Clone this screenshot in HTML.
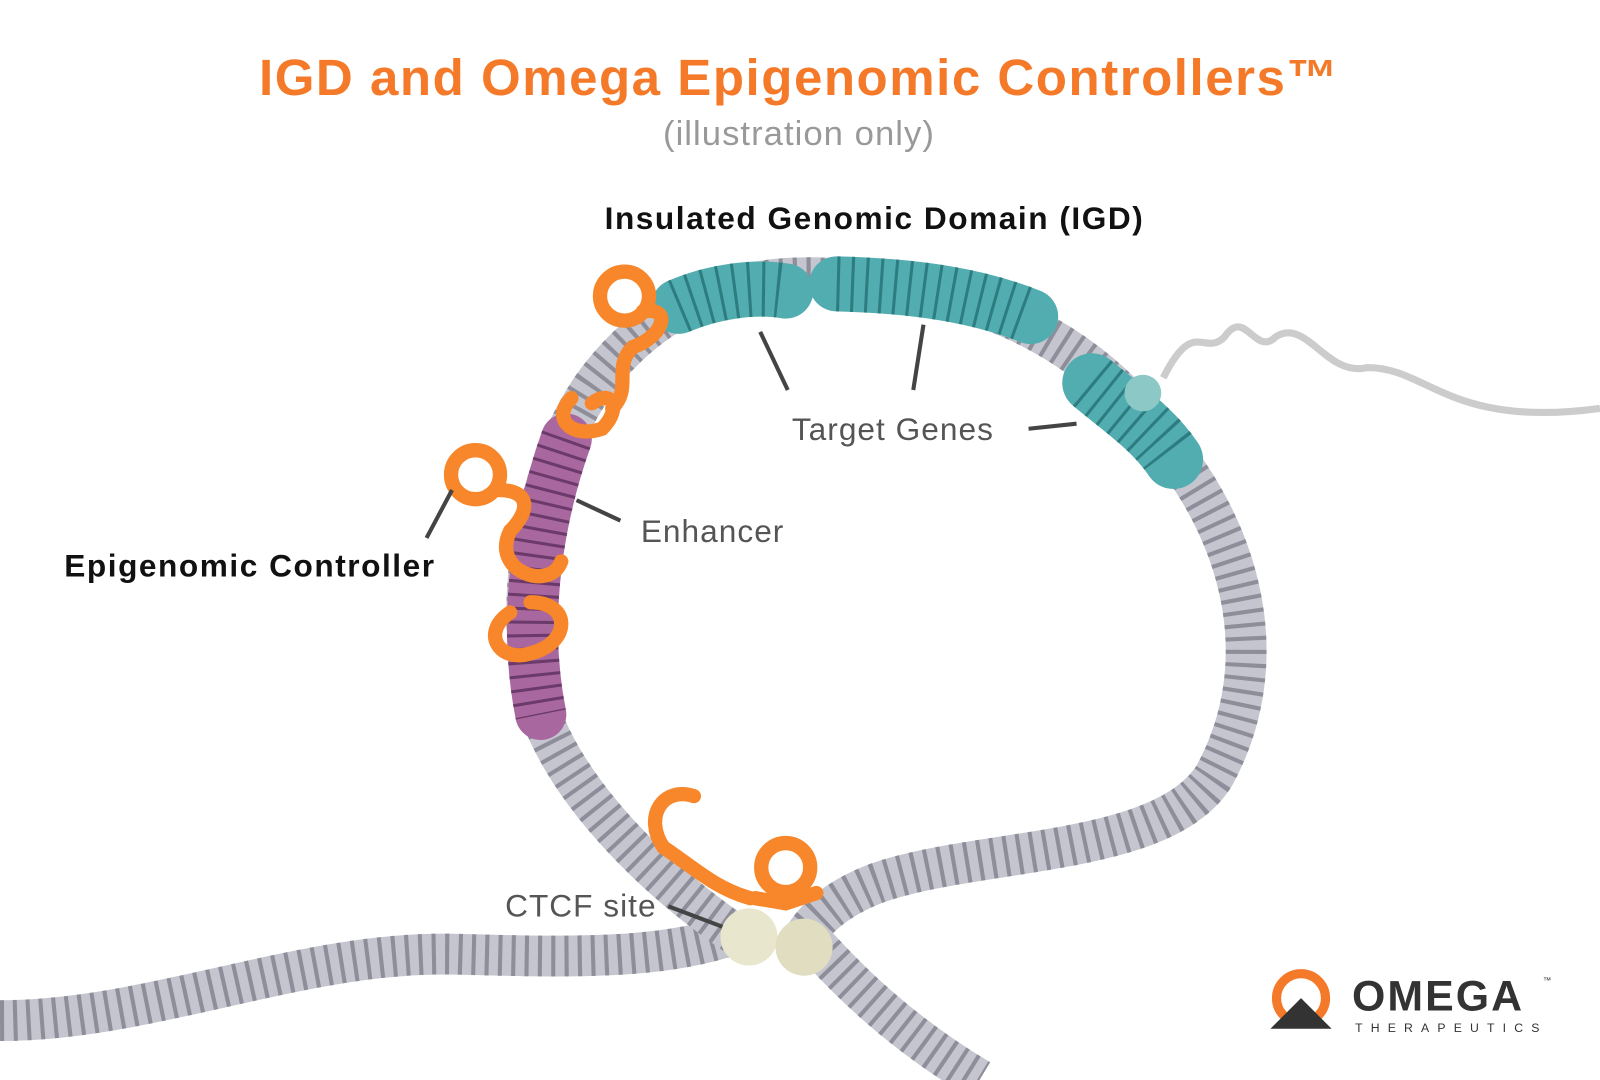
<!DOCTYPE html>
<html><head><meta charset="utf-8"><style>
html,body{margin:0;padding:0;background:#fff;}
svg{display:block}
</style></head><body>
<svg width="1600" height="1080" viewBox="0 0 1568 1058" xmlns="http://www.w3.org/2000/svg">
<rect width="1568" height="1058" fill="#fff"/>
<text x="783" y="93" text-anchor="middle" font-family="Liberation Sans, sans-serif" font-weight="bold" font-size="50" letter-spacing="1.5" fill="#f47a2a">IGD and Omega Epigenomic Controllers™</text>
<text x="783" y="142" text-anchor="middle" font-family="Liberation Sans, sans-serif" font-size="34" letter-spacing="1" fill="#999">(illustration only)</text>
<text x="857" y="224" text-anchor="middle" font-family="Liberation Sans, sans-serif" font-weight="bold" font-size="31" letter-spacing="1.5" fill="#111">Insulated Genomic Domain (IGD)</text>

<path d="M1140 370 C1170 310 1180 350 1200 330 C1220 300 1230 350 1250 330 C1280 310 1300 370 1340 360 C1400 360 1420 420 1568 400" fill="none" stroke="#ccc" stroke-width="7"/>

<defs>
<path id="t1" d="M0 1000 C150 1000 300 930 450 935 C560 938 650 940 720 915"/>
<path id="t2" d="M790 915 C830 960 880 1010 960 1058"/>
<path id="loop" d="M720 915 C640 860 560 780 530 700 C500 600 520 470 580 380 C630 310 700 270 800 272 C950 276 1060 330 1130 420 C1220 520 1250 650 1190 760 C1140 840 960 830 860 865 C820 880 800 900 790 915"/>
<path id="g1" d="M665 300 C700 285 740 280 770 285"/>
<path id="g2" d="M820 278 C900 280 960 290 1010 310"/>
<path id="g3" d="M1070 375 C1100 400 1130 420 1150 450"/>
<path id="en" d="M555 430 C530 500 510 600 530 700"/>
</defs>
<g fill="none" stroke-linecap="butt">
<use href="#t1" stroke="#c4c5ce" stroke-width="40"/>
<use href="#t1" stroke="#8d8e99" stroke-width="40" stroke-dasharray="4 9"/>
<use href="#t2" stroke="#c4c5ce" stroke-width="40"/>
<use href="#t2" stroke="#8d8e99" stroke-width="40" stroke-dasharray="4 9"/>
<use href="#loop" stroke="#c4c5ce" stroke-width="40"/>
<use href="#loop" stroke="#8d8e99" stroke-width="40" stroke-dasharray="4 9"/>
<use href="#g1" stroke="#52adb0" stroke-width="54" stroke-linecap="round"/>
<use href="#g1" stroke="#2d7d80" stroke-width="54" stroke-dasharray="3 11"/>
<use href="#g2" stroke="#52adb0" stroke-width="54" stroke-linecap="round"/>
<use href="#g2" stroke="#2d7d80" stroke-width="54" stroke-dasharray="3 11"/>
<use href="#g3" stroke="#52adb0" stroke-width="58" stroke-linecap="round"/>
<use href="#g3" stroke="#2d7d80" stroke-width="58" stroke-dasharray="3 11"/>
<use href="#en" stroke="#a8689f" stroke-width="50" stroke-linecap="round"/>
<use href="#en" stroke="#6b3a6a" stroke-width="50" stroke-dasharray="3 10"/>
</g>
<circle cx="1120" cy="385" r="18" fill="#8cc8c6"/>
<circle cx="734" cy="918" r="28" fill="#e8e6cc"/>
<circle cx="788" cy="928" r="28" fill="#e0ddc0"/>
<g fill="none" stroke="#f7872a" stroke-width="14" stroke-linecap="round">
<circle cx="612" cy="290" r="24"/>
<path d="M630 305 C660 300 650 330 620 340 C600 360 620 380 600 400"/>
<path d="M560 390 C540 410 560 430 590 420 C610 400 600 380 580 395"/>
<circle cx="466" cy="465" r="24"/>
<path d="M488 480 C520 480 520 500 500 520 C480 560 540 580 550 550"/>
<path d="M500 600 C470 620 490 650 520 640 C560 630 560 590 520 590"/>
<path d="M680 780 C650 770 630 800 650 830 C680 850 700 870 735 880"/>
<circle cx="770" cy="850" r="24"/>
<path d="M740 880 L770 885 L800 875"/>
</g>
<g stroke="#444" stroke-width="4">
<line x1="745" y1="325" x2="772" y2="382"/>
<line x1="905" y1="318" x2="895" y2="382"/>
<line x1="1008" y1="420" x2="1055" y2="415"/>
<line x1="565" y1="490" x2="608" y2="510"/>
<line x1="443" y1="480" x2="418" y2="527"/>
<line x1="655" y1="888" x2="708" y2="908"/>
</g>
<g font-family="Liberation Sans, sans-serif" fill="#555" font-size="31" letter-spacing="1">
<text x="776" y="431">Target Genes</text>
<text x="628" y="531">Enhancer</text>
<text x="495" y="898">CTCF site</text>
</g>
<text x="63" y="565" font-family="Liberation Sans, sans-serif" font-weight="bold" font-size="31" letter-spacing="1.5" fill="#111">Epigenomic Controller</text>
<circle cx="1275" cy="978" r="24" fill="none" stroke="#f47a2a" stroke-width="9"/>
<path d="M1245 1008 L1275 978 L1305 1008 Z" fill="#333"/>
<text x="1325" y="990" font-family="Liberation Sans, sans-serif" font-weight="bold" font-size="42" letter-spacing="2" fill="#333">OMEGA</text>
<text x="1328" y="1011" font-family="Liberation Sans, sans-serif" font-size="12" letter-spacing="8" fill="#333">THERAPEUTICS</text>
<text x="1512" y="963" font-family="Liberation Sans, sans-serif" font-size="8" fill="#333">™</text>
</svg>
</body></html>
